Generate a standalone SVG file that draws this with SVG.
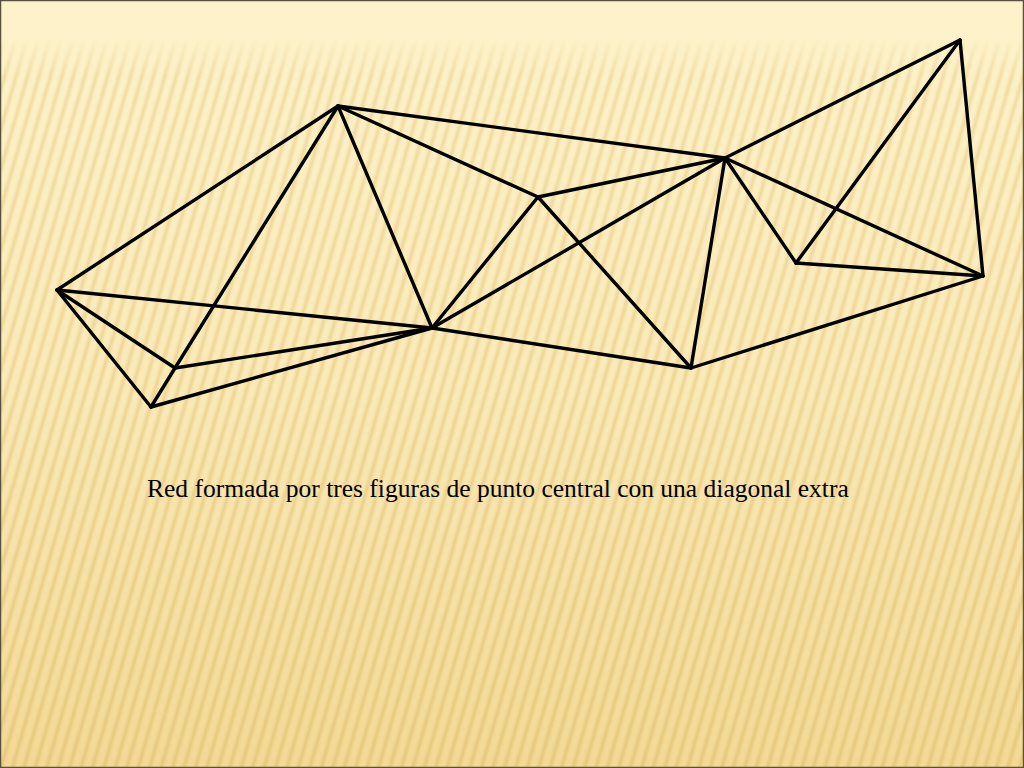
<svg xmlns="http://www.w3.org/2000/svg" width="1024" height="768" viewBox="0 0 1024 768">
<style>
.edge{stroke:#000;stroke-width:3.4;stroke-linecap:round;fill:none}
.cap{font-family:"Liberation Serif","Times New Roman",serif;font-size:25.5px;fill:#000}
</style>
<defs>
<linearGradient id="bg" x1="0" y1="0" x2="0" y2="1">
<stop offset="0" stop-color="#FDF2CA"/>
<stop offset="0.5" stop-color="#FAEAB8"/>
<stop offset="1" stop-color="#F3D995"/>
</linearGradient>
<linearGradient id="st" x1="0" y1="0" x2="1" y2="0">
<stop offset="0" stop-color="#E2C478" stop-opacity="0"/>
<stop offset="0.5" stop-color="#E2C478" stop-opacity="1"/>
<stop offset="1" stop-color="#E2C478" stop-opacity="0"/>
</linearGradient>
<pattern id="stripes" width="11" height="40" patternUnits="userSpaceOnUse" patternTransform="rotate(16)">
<rect x="0" y="0" width="7" height="40" fill="url(#st)"/>
</pattern>
<linearGradient id="fade" x1="0" y1="0" x2="0" y2="1">
<stop offset="0" stop-color="#fff" stop-opacity="0"/>
<stop offset="0.05" stop-color="#fff" stop-opacity="0"/>
<stop offset="0.1" stop-color="#fff" stop-opacity="0.45"/>
<stop offset="0.5" stop-color="#fff" stop-opacity="0.55"/>
<stop offset="1" stop-color="#fff" stop-opacity="0.8"/>
</linearGradient>
<mask id="m"><rect width="1024" height="768" fill="url(#fade)"/></mask>
</defs>
<rect width="1024" height="768" fill="url(#bg)"/>
<rect width="1024" height="768" fill="url(#stripes)" mask="url(#m)"/>
<rect x="0.5" y="0.5" width="1023" height="767" fill="none" stroke="#5a5040" stroke-width="1.5"/>
<g id="connectors">
<line class="edge" x1="57" y1="290" x2="338" y2="106"/>
<line class="edge" x1="57" y1="290" x2="432" y2="328"/>
<line class="edge" x1="57" y1="290" x2="175" y2="368"/>
<line class="edge" x1="57" y1="290" x2="151" y2="407"/>
<line class="edge" x1="338" y1="106" x2="175" y2="368"/>
<line class="edge" x1="175" y1="368" x2="151" y2="407"/>
<line class="edge" x1="175" y1="368" x2="432" y2="328"/>
<line class="edge" x1="151" y1="407" x2="432" y2="328"/>
<line class="edge" x1="338" y1="106" x2="432" y2="328"/>
<line class="edge" x1="338" y1="106" x2="538" y2="197"/>
<line class="edge" x1="338" y1="106" x2="725" y2="158"/>
<line class="edge" x1="432" y1="328" x2="538" y2="197"/>
<line class="edge" x1="432" y1="328" x2="725" y2="158"/>
<line class="edge" x1="432" y1="328" x2="691" y2="368"/>
<line class="edge" x1="538" y1="197" x2="725" y2="158"/>
<line class="edge" x1="538" y1="197" x2="691" y2="368"/>
<line class="edge" x1="725" y1="158" x2="691" y2="368"/>
<line class="edge" x1="725" y1="158" x2="960" y2="40"/>
<line class="edge" x1="725" y1="158" x2="796" y2="263"/>
<line class="edge" x1="725" y1="158" x2="983" y2="276"/>
<line class="edge" x1="960" y1="40" x2="983" y2="276"/>
<line class="edge" x1="960" y1="40" x2="796" y2="263"/>
<line class="edge" x1="796" y1="263" x2="983" y2="276"/>
<line class="edge" x1="691" y1="368" x2="983" y2="276"/>
</g>
<g id="caption">
<text class="cap" x="147" y="497">Red formada por tres figuras de punto central con una diagonal extra</text>
</g>
</svg>
